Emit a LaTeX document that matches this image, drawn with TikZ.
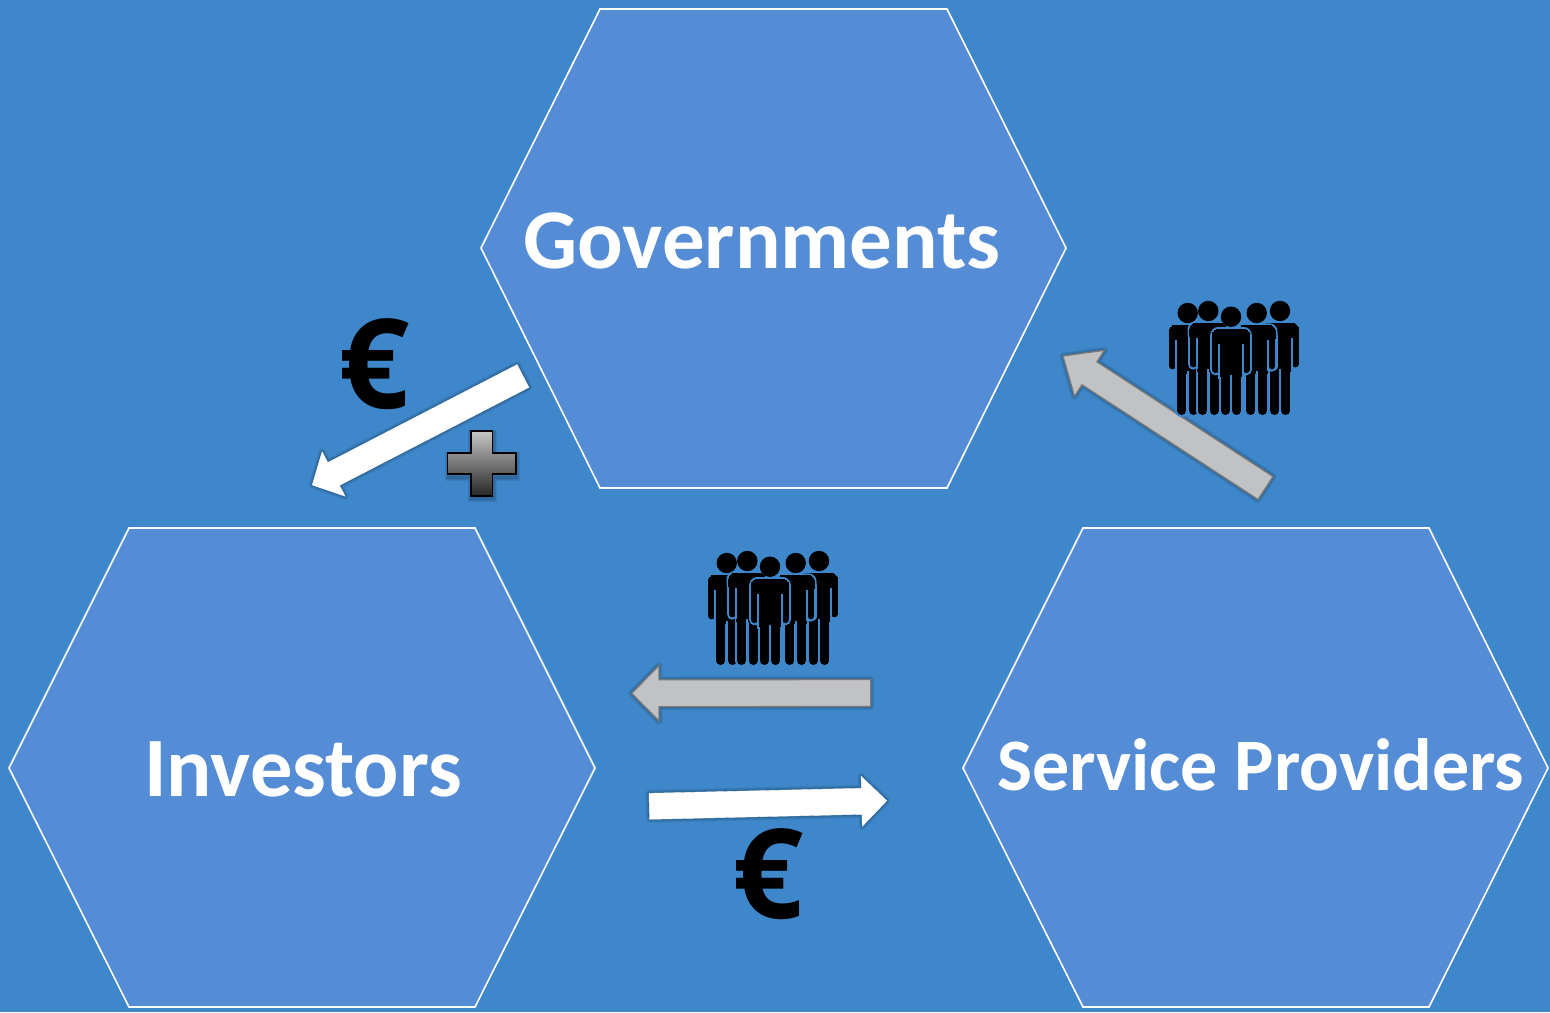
\documentclass[tikz,border=0pt]{standalone}
\usepackage{fontspec}
\setmainfont{Carlito}
\newfontfamily\eurofont{Open Sans}
\usetikzlibrary{calc}
\definecolor{bgblue}{HTML}{3E87CA}
\definecolor{hexblue}{HTML}{558CD6}
\definecolor{arrowgrey}{HTML}{C1C2C4}
\definecolor{arrowedge}{HTML}{7A7A7A}
\tikzset{
  hexa/.style={draw=white,line width=1.6pt,fill=hexblue,line join=miter},
  title/.style={text=white,font=\bfseries,anchor=base,inner sep=0pt},
  eurosign/.style={text=black,font=\eurofont\bfseries\fontsize{125}{125}\selectfont,anchor=base,inner sep=0pt},
  whitearrow/.style={fill=white,draw=white,line width=.4pt},
  greyarrow/.style={fill=arrowgrey,draw=arrowedge,line width=1.3pt},
  plusmark/.style={draw=black,line width=1.6pt,top color=black!22,bottom color=black!85,line join=miter},
}
\newcommand\blockarrow[6]{%
  \coordinate (hd) at ($(#3)!#5pt!(#2)$);
  \coordinate (p1) at ($(#2)!#4pt!90:(#3)$);
  \coordinate (p2) at ($(hd)!#4pt!90:(#3)$);
  \coordinate (p3) at ($(hd)!#6pt!90:(#3)$);
  \coordinate (p4) at ($(hd)!#6pt!-90:(#3)$);
  \coordinate (p5) at ($(hd)!#4pt!-90:(#3)$);
  \coordinate (p6) at ($(#2)!#4pt!-90:(#3)$);
  \foreach \w in {7,5,3,1}{
    \path[draw=black,fill=black,draw opacity=.07,fill opacity=.07,line width=\w pt,line join=round,shift={(1,3)}]
      (p1)--(p2)--(p3)--(#3)--(p4)--(p5)--(p6)--cycle;
  }
  \path[#1] (p1)--(p2)--(p3)--(#3)--(p4)--(p5)--(p6)--cycle;
}
% person: x, head y, feet (offset from head)
\newcommand\personfig[3]{%
  \begin{scope}[shift={(#1,#2)}]
    \foreach \c/\e in {bgblue/4.4,black/0}{
      \fill[\c] (0,0) circle[radius=10.2];
      \filldraw[\c,line width=\e pt,rounded corners=6pt] (-18.6,12.5) -- (18.6,12.5) -- (18.6,30) -- (-18.6,30) -- cycle;
      \filldraw[\c,line width=\e pt] (-10.6,16) rectangle (10.6,60);
      \draw[\c,line width=6.8pt+\e pt,line cap=round] (-15.2,24) -- (-15.2,53);
      \draw[\c,line width=6.8pt+\e pt,line cap=round] (15.2,24) -- (15.2,53);
      \draw[\c,line width=9pt+\e pt,line cap=round] (-5.8,54) -- (-5.8,#3-4.5);
      \draw[\c,line width=9pt+\e pt,line cap=round] (5.8,54) -- (5.8,#3-4.5);
    }
    \draw[bgblue,line width=2.2pt] (0,58) -- (0,#3);
    \draw[bgblue,line width=2pt] (-11.6,27) -- (-11.6,58);
    \draw[bgblue,line width=2pt] (11.6,27) -- (11.6,58);
  \end{scope}
}
\newcommand\crowd[2]{%
  \begin{scope}[shift={(#1,#2)}]
    \personfig{0}{2}{102}
    \personfig{20.6}{0}{104}
    \personfig{92.3}{0}{104}
    \personfig{69}{2}{102}
    \personfig{43.3}{5.7}{98.3}
  \end{scope}
}
\begin{document}
\begin{tikzpicture}[x=1pt,y=-1pt]
  \useasboundingbox (0,0) rectangle (1550,1012);
  \fill[bgblue] (0,0) rectangle (1550,1012);
  \path[hexa] (481,248) -- (600,9) -- (947,9) -- (1066,248) -- (947,488) -- (600,488) -- cycle;
  \path[hexa] (9,768) -- (129,528) -- (475,528) -- (595,768) -- (475,1007) -- (129,1007) -- cycle;
  \path[hexa] (963,768) -- (1083,528) -- (1429,528) -- (1548,768) -- (1429,1007) -- (1083,1007) -- cycle;
  \node[title,font=\bfseries\fontsize{85}{85}\selectfont] (gov) at (762,268) {Governments};
  \node[title,font=\bfseries\fontsize{84.5}{84.5}\selectfont] (inv) at (303,796) {Investors};
  \node[title,font=\bfseries\fontsize{74}{74}\selectfont] (svc) at (1261,790) {Service Providers};
  \coordinate (a1t) at (1265.5,488);  \coordinate (a1h) at (1063,356);
  \coordinate (a2t) at (523,376);     \coordinate (a2h) at (312.3,485);
  \coordinate (a3t) at (870.7,693);   \coordinate (a3h) at (631.7,693.3);
  \coordinate (a4t) at (649.3,806.3); \coordinate (a4h) at (886.7,800.7);
  \blockarrow{greyarrow}{a1t}{a1h}{13.7}{31.6}{27.5}
  \blockarrow{whitearrow}{a2t}{a2h}{12.8}{24}{25}
  \blockarrow{greyarrow}{a3t}{a3h}{13.5}{27.3}{27.7}
  \blockarrow{whitearrow}{a4t}{a4h}{13}{25}{25}
  \crowd{1187.7}{311}
  \crowd{726.7}{561}
  \node[eurosign] (e1) at (374,408) {€};
  \node[eurosign] (e2) at (768,918) {€};
  \foreach \w in {7,5,3}{
    \path[draw=black,draw opacity=.08,line width=\w pt,shift={(1,3)}]
      (470.7,430.7) -- (492.3,430.7) -- (492.3,452.7) -- (515.7,452.7) -- (515.7,474) -- (492.3,474) -- (492.3,495.7) -- (470.7,495.7) -- (470.7,474) -- (447.3,474) -- (447.3,452.7) -- (470.7,452.7) -- cycle;
  }
  \path[plusmark]
      (470.7,430.7) -- (492.3,430.7) -- (492.3,452.7) -- (515.7,452.7) -- (515.7,474) -- (492.3,474) -- (492.3,495.7) -- (470.7,495.7) -- (470.7,474) -- (447.3,474) -- (447.3,452.7) -- (470.7,452.7) -- cycle;
\end{tikzpicture}
\end{document}
